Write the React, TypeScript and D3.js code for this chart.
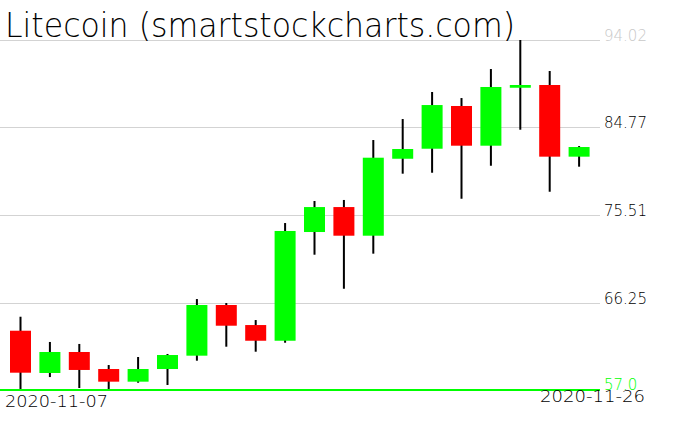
import { useEffect, useRef } from "react";
import * as d3 from "d3";

const dates = [
  "2020-11-07", "2020-11-08", "2020-11-09", "2020-11-10", "2020-11-11",
  "2020-11-12", "2020-11-13", "2020-11-14", "2020-11-15", "2020-11-16",
  "2020-11-17", "2020-11-18", "2020-11-19", "2020-11-20", "2020-11-21",
  "2020-11-22", "2020-11-23", "2020-11-24", "2020-11-25", "2020-11-26",
];
const opens = [63.27, 58.8, 61.02, 59.22, 57.88, 59.22, 60.63, 65.99, 63.87, 62.21, 73.71, 76.35, 73.32, 81.46, 82.52, 87.04, 82.84, 88.97, 89.26, 81.68];
const highs = [64.75, 62.08, 61.87, 59.64, 60.49, 60.81, 66.62, 66.2, 64.4, 74.66, 76.99, 77.1, 83.44, 85.66, 88.52, 87.88, 90.95, 94.02, 90.74, 82.8];
const lows = [57.0, 58.37, 57.21, 57.02, 57.77, 57.53, 60.1, 61.58, 61.05, 62.0, 71.31, 67.71, 71.42, 79.88, 79.98, 77.23, 80.72, 84.53, 77.97, 80.62];
const closes = [58.83, 61.02, 59.12, 57.88, 59.22, 60.7, 65.99, 63.8, 62.21, 73.82, 76.35, 73.32, 81.57, 82.49, 87.14, 82.84, 89.05, 89.26, 81.68, 82.7];

const gridValues = [94.02, 84.77, 75.51, 66.25];
const gridLabels = ["94.02", "84.77", "75.51", "66.25"];
const minValue = 57.0;
const minLabel = "57.0";

export default function App() {
  const svgRef = useRef<SVGSVGElement | null>(null);

  useEffect(() => {
    document.body.style.margin = "0";
    const width = 676;
    const height = 431;
    const svg = d3.select(svgRef.current);
    svg.selectAll("*").remove();
    svg.attr("width", width).attr("height", height);

    const font = "'DejaVu Sans', sans-serif";

    const y = d3.scaleLinear().domain([minValue, gridValues[0]]).range([390, 40]);
    const x = d3.scalePoint<string>().domain(dates).range([20.5, 579.1]);
    const bodyW = 21;
    const plotRight = 600;

    // grid
    svg.append("g")
      .selectAll("line")
      .data(gridValues)
      .enter()
      .append("line")
      .attr("x1", 0)
      .attr("x2", plotRight)
      .attr("y1", (d) => Math.round(y(d)) + 0.5)
      .attr("y2", (d) => Math.round(y(d)) + 0.5)
      .attr("stroke", "#d3d3d3")
      .attr("stroke-width", 1);

    svg.append("g")
      .selectAll("text")
      .data(gridValues)
      .enter()
      .append("text")
      .attr("x", 604)
      .attr("y", (d) => Math.round(y(d)) + 1)
      .attr("fill", (d, i) => (i === 0 ? "#c8c8c8" : "#000"))
      .style("font-family", font)
      .style("font-weight", 200)
      .style("font-size", "15px")
      .text((d, i) => gridLabels[i]);

    // title
    svg.append("text")
      .attr("x", 5)
      .attr("y", 37)
      .attr("textLength", 510)
      .attr("lengthAdjust", "spacingAndGlyphs")
      .style("font-family", font)
      .style("font-weight", 200)
      .style("font-size", "34px")
      .attr("fill", "#000")
      .text("Litecoin (smartstockcharts.com)");

    // candles
    const idx = d3.range(dates.length);
    const g = svg.append("g");
    g.selectAll("rect.wick")
      .data(idx)
      .enter()
      .append("rect")
      .attr("class", "wick")
      .attr("x", (i) => x(dates[i])! - 1)
      .attr("width", 2)
      .attr("y", (i) => y(highs[i]))
      .attr("height", (i) => y(lows[i]) - y(highs[i]))
      .attr("fill", "#000");

    g.selectAll("rect.body")
      .data(idx)
      .enter()
      .append("rect")
      .attr("class", "body")
      .attr("x", (i) => x(dates[i])! - bodyW / 2)
      .attr("width", bodyW)
      .attr("y", (i) => y(Math.max(opens[i], closes[i])))
      .attr("height", (i) => Math.max(2, Math.abs(y(opens[i]) - y(closes[i]))))
      .attr("fill", (i) => (closes[i] >= opens[i] ? "#00ff00" : "#ff0000"));

    // min line
    svg.append("line")
      .attr("x1", 0)
      .attr("x2", plotRight)
      .attr("y1", y(minValue))
      .attr("y2", y(minValue))
      .attr("stroke", "#00ff00")
      .attr("stroke-width", 2);

    svg.append("text")
      .attr("x", 604)
      .attr("y", y(minValue))
      .attr("fill", "#00ff00")
      .style("font-family", font)
      .style("font-weight", 200)
      .style("font-size", "15px")
      .text(minLabel);

    // date labels
    svg.append("text")
      .attr("x", 5)
      .attr("y", 407)
      .attr("textLength", 103)
      .attr("lengthAdjust", "spacingAndGlyphs")
      .style("font-family", font)
      .style("font-weight", 200)
      .style("font-size", "15px")
      .attr("fill", "#000")
      .text(dates[0]);

    svg.append("text")
      .attr("x", 540)
      .attr("y", 402)
      .attr("textLength", 105)
      .attr("lengthAdjust", "spacingAndGlyphs")
      .style("font-family", font)
      .style("font-weight", 200)
      .style("font-size", "15px")
      .attr("fill", "#000")
      .text(dates[dates.length - 1]);
  }, []);

  return (
    <div style={{ position: "absolute", left: 0, top: 0, width: 676, height: 431, background: "#fff" }}>
      <svg ref={svgRef} style={{ display: "block" }} />
    </div>
  );
}
